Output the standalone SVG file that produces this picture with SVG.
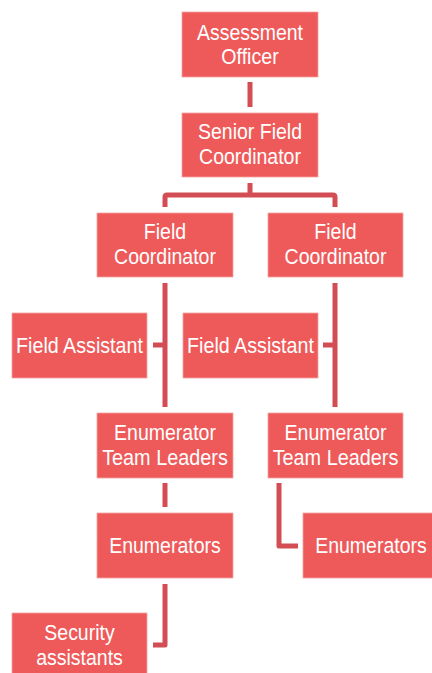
<svg xmlns="http://www.w3.org/2000/svg" width="432" height="673" viewBox="0 0 432 673">
<style>
.box{fill:#EE5A5A;stroke:#F6A3A3;stroke-width:0.8}
.t{font-family:"Liberation Sans",Arial,sans-serif;font-size:22px;fill:#FFFFFF;text-anchor:middle}
.c{fill:none;stroke:#D34E54;stroke-width:5;stroke-linejoin:round}
</style>
<rect width="432" height="673" fill="#FFFFFF"/>
<g id="connectors">
<path class="c" d="M250 82 V107"/>
<path class="c" d="M250 183 V195 M165 207 V197 Q165 195 167 195 H333 Q335 195 335 197 V207"/>
<path class="c" d="M165 283 V407 M153 345 H165"/>
<path class="c" d="M335 283 V407 M323 345 H335"/>
<path class="c" d="M165 483 V507"/>
<path class="c" d="M279 483 V546 H298"/>
<path class="c" d="M165 584 V645 H153"/>
</g>
<g id="assessment-officer">
<rect class="box" x="182" y="12" width="136" height="65"/>
<text class="t" x="250" y="40" textLength="106" lengthAdjust="spacingAndGlyphs">Assessment</text>
<text class="t" x="250" y="64" textLength="57.4" lengthAdjust="spacingAndGlyphs">Officer</text>
</g>
<g id="senior-field-coordinator">
<rect class="box" x="182" y="113" width="136" height="64"/>
<text class="t" x="250" y="139" textLength="104" lengthAdjust="spacingAndGlyphs">Senior Field</text>
<text class="t" x="250" y="164" textLength="101.9" lengthAdjust="spacingAndGlyphs">Coordinator</text>
</g>
<g id="field-coordinator-left">
<rect class="box" x="97" y="213" width="136" height="64"/>
<text class="t" x="165" y="239" textLength="42.3" lengthAdjust="spacingAndGlyphs">Field</text>
<text class="t" x="165" y="264" textLength="101.9" lengthAdjust="spacingAndGlyphs">Coordinator</text>
</g>
<g id="field-coordinator-right">
<rect class="box" x="268" y="213" width="135" height="64"/>
<text class="t" x="335.5" y="239" textLength="42.3" lengthAdjust="spacingAndGlyphs">Field</text>
<text class="t" x="335.5" y="264" textLength="101.9" lengthAdjust="spacingAndGlyphs">Coordinator</text>
</g>
<g id="field-assistant-left">
<rect class="box" x="12" y="313" width="135" height="65"/>
<text class="t" x="79.5" y="353" textLength="126.8" lengthAdjust="spacingAndGlyphs">Field Assistant</text>
</g>
<g id="field-assistant-right">
<rect class="box" x="183" y="313" width="135" height="65"/>
<text class="t" x="250.5" y="353" textLength="126.8" lengthAdjust="spacingAndGlyphs">Field Assistant</text>
</g>
<g id="team-leaders-left">
<rect class="box" x="97" y="413" width="136" height="65"/>
<text class="t" x="165" y="440" textLength="101.9" lengthAdjust="spacingAndGlyphs">Enumerator</text>
<text class="t" x="165" y="465" textLength="125.7" lengthAdjust="spacingAndGlyphs">Team Leaders</text>
</g>
<g id="team-leaders-right">
<rect class="box" x="268" y="413" width="135" height="65"/>
<text class="t" x="335.5" y="440" textLength="101.9" lengthAdjust="spacingAndGlyphs">Enumerator</text>
<text class="t" x="335.5" y="465" textLength="125.7" lengthAdjust="spacingAndGlyphs">Team Leaders</text>
</g>
<g id="enumerators-left">
<rect class="box" x="97" y="513" width="136" height="65"/>
<text class="t" x="165" y="553" textLength="111.6" lengthAdjust="spacingAndGlyphs">Enumerators</text>
</g>
<g id="enumerators-right">
<rect class="box" x="303" y="513" width="136" height="65"/>
<text class="t" x="371" y="553" textLength="111.6" lengthAdjust="spacingAndGlyphs">Enumerators</text>
</g>
<g id="security-assistants">
<rect class="box" x="12" y="613" width="135" height="65"/>
<text class="t" x="79.5" y="640" textLength="70.4" lengthAdjust="spacingAndGlyphs">Security</text>
<text class="t" x="79.5" y="665" textLength="86.7" lengthAdjust="spacingAndGlyphs">assistants</text>
</g>
</svg>
